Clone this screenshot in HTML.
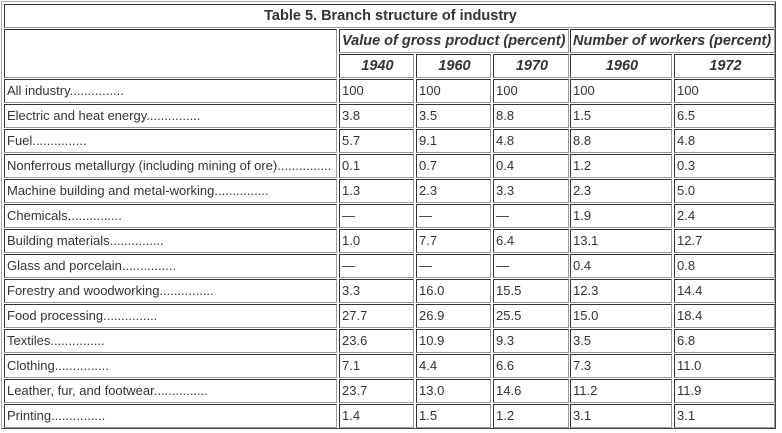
<!DOCTYPE html>
<html><head><meta charset="utf-8"><style>
body{margin:0;background:#fff;width:782px;height:433px;overflow:hidden;font-family:"Liberation Sans",Arial,sans-serif;color:#333;}
.o{position:absolute;left:1px;top:1px;width:775px;height:428px;border:1px solid;border-color:#aaa #444 #444 #aaa;box-sizing:border-box;}
.c{position:absolute;box-sizing:border-box;border:1px solid;border-color:#333 #999 #999 #333;font-size:13px;line-height:22px;padding-left:2px;white-space:nowrap;overflow:hidden;}
.h{font-weight:bold;font-style:italic;font-size:14.5px;}
.t{font-weight:bold;font-size:14.5px;text-align:center;}
.ctr{text-align:center;}
</style></head><body>
<div class="o"></div>
<div class="c t" style="left:4px;top:4px;width:771px;height:24px;">Table 5. Branch structure of industry</div>
<div class="c" style="left:4px;top:29px;width:333px;height:49px;"></div>
<div class="c h" style="left:339px;top:29px;width:230px;height:24px;">Value of gross product (percent)</div>
<div class="c h" style="left:570px;top:29px;width:205px;height:24px;">Number of workers (percent)</div>
<div class="c h ctr" style="left:339px;top:54px;width:75px;height:24px;">1940</div>
<div class="c h ctr" style="left:416px;top:54px;width:75px;height:24px;">1960</div>
<div class="c h ctr" style="left:493px;top:54px;width:76px;height:24px;">1970</div>
<div class="c h ctr" style="left:570px;top:54px;width:102px;height:24px;">1960</div>
<div class="c h ctr" style="left:674px;top:54px;width:101px;height:24px;">1972</div>
<div id="rows"></div>
<script>
var d=[["All industry","100","100","100","100","100"],
["Electric and heat energy","3.8","3.5","8.8","1.5","6.5"],
["Fuel","5.7","9.1","4.8","8.8","4.8"],
["Nonferrous metallurgy (including mining of ore)","0.1","0.7","0.4","1.2","0.3"],
["Machine building and metal-working","1.3","2.3","3.3","2.3","5.0"],
["Chemicals","—","—","—","1.9","2.4"],
["Building materials","1.0","7.7","6.4","13.1","12.7"],
["Glass and porcelain","—","—","—","0.4","0.8"],
["Forestry and woodworking","3.3","16.0","15.5","12.3","14.4"],
["Food processing","27.7","26.9","25.5","15.0","18.4"],
["Textiles","23.6","10.9","9.3","3.5","6.8"],
["Clothing","7.1","4.4","6.6","7.3","11.0"],
["Leather, fur, and footwear","23.7","13.0","14.6","11.2","11.9"],
["Printing","1.4","1.5","1.2","3.1","3.1"]];
var cols=[[4,333],[339,75],[416,75],[493,76],[570,102],[674,101]];
var h="";
d.forEach(function(r,i){var y=79+25*i;
r.forEach(function(v,j){var t=j==0?v+'...............':v;
h+='<div class="c" style="left:'+cols[j][0]+'px;top:'+y+'px;width:'+cols[j][1]+'px;height:24px;">'+t+'</div>';});});
document.getElementById("rows").innerHTML=h;
</script>
</body></html>
